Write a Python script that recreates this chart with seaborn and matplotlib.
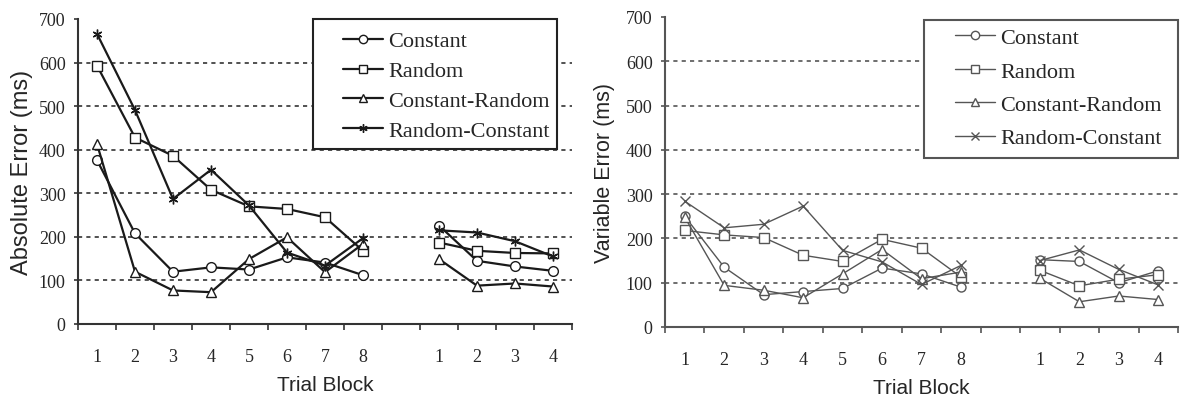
# Absolute and variable timing error across trial blocks (acquisition 1-8, transfer 1-4)

import matplotlib
matplotlib.use("Agg")
import pandas as pd
import matplotlib.pyplot as plt
import seaborn as sns
from matplotlib.lines import Line2D
from matplotlib.patches import Rectangle

# Data
conditions = ["Constant", "Random", "Constant-Random", "Random-Constant"]
block_labels = ["1", "2", "3", "4", "5", "6", "7", "8", "", "1", "2", "3", "4"]

# acquisition blocks 1-8, then transfer blocks 1-4
abs_constant = [376, 208, 120, 130, 125, 153, 141, 112, 226, 145, 132, 122]
abs_random = [593, 428, 386, 308, 270, 264, 245, 168, 187, 168, 163, 162]
abs_const_random = [413, 120, 77, 73, 149, 199, 119, 184, 149, 88, 93, 86]
abs_random_const = [666, 491, 287, 354, 272, 164, 134, 197, 215, 210, 190, 155]

var_constant = [250, 135, 73, 80, 87, 133, 120, 90, 152, 148, 100, 127]
var_random = [218, 208, 202, 162, 148, 198, 178, 113, 128, 93, 108, 118]
var_const_random = [248, 94, 83, 66, 120, 175, 109, 124, 110, 57, 70, 62]
var_random_const = [284, 224, 232, 273, 173, 147, 96, 139, 150, 174, 130, 95]

# slot on the x axis for each of the 12 points (slot 9 is the blank gap)
slots = [1, 2, 3, 4, 5, 6, 7, 8, 10, 11, 12, 13]
phase = ["acquisition"] * 8 + ["transfer"] * 4


def make_frame(series):
    rows = []
    for cond, vals in zip(conditions, series):
        for s, p, v in zip(slots, phase, vals):
            rows.append({"condition": cond, "slot": s, "phase": p, "value": v})
    return pd.DataFrame(rows)


abs_df = make_frame([abs_constant, abs_random, abs_const_random, abs_random_const])
var_df = make_frame([var_constant, var_random, var_const_random, var_random_const])

sns.set_style("white")
plt.rcParams["font.family"] = ["Liberation Serif", "DejaVu Serif"]

W, H = 1180, 402
fig = plt.figure(figsize=(W / 100, H / 100), dpi=100)
ax1 = fig.add_axes([78 / W, 77 / H, 494 / W, 305 / H])
ax2 = fig.add_axes([665 / W, 74 / H, 513 / W, 310 / H])


def draw_panel(ax, df, markers, color, lw, ms, ylabel, ylabel_size, grid_color, spine_color):
    # one call per condition: seaborn won't mix filled and line-art markers
    for cond in conditions:
        sns.lineplot(
            data=df[df["condition"] == cond], x="slot", y="value",
            units="phase", estimator=None, color=color,
            marker=markers[cond], linewidth=lw, markersize=ms,
            markerfacecolor="white", markeredgecolor=color, markeredgewidth=1.0,
            legend=False, ax=ax, zorder=3,
        )

    # dotted gridlines like the original spreadsheet chart
    for yv in range(100, 700, 100):
        ax.axhline(yv, color=grid_color, lw=1.2, ls=(0, (2.5, 2.5)), zorder=1)

    ax.set_xlim(0.5, 13.5)
    ax.set_ylim(0, 700)
    ax.set_yticks(range(0, 701, 100))
    ax.set_yticklabels([str(v) for v in range(0, 701, 100)], fontsize=13)

    # ticks between categories, labels at category centres
    ax.set_xticks([k + 0.5 for k in range(0, 14)])
    ax.set_xticklabels([])
    ax.set_xticks(list(range(1, 14)), minor=True)
    ax.set_xticklabels(block_labels, minor=True, fontsize=13)
    ax.tick_params(axis="x", which="major", direction="out", length=4.5,
                   width=1.2, color=spine_color, bottom=True)
    ax.tick_params(axis="x", which="minor", length=0, pad=17)
    ax.tick_params(axis="y", direction="out", length=3, width=1.2,
                   color=spine_color, left=True, pad=6)

    for side in ["top", "right"]:
        ax.spines[side].set_visible(False)
    for side in ["left", "bottom"]:
        ax.spines[side].set_color(spine_color)
        ax.spines[side].set_linewidth(1.5)

    ax.set_xlabel("Trial Block", family="Liberation Sans", fontsize=15)
    ax.set_ylabel(ylabel, family="Liberation Sans", fontsize=ylabel_size)
    ax.xaxis.label.set_va("center")
    ax.yaxis.label.set_va("center")


abs_markers = {"Constant": "o", "Random": "s", "Constant-Random": "^",
               "Random-Constant": (6, 2, 0)}
var_markers = {"Constant": "o", "Random": "s", "Constant-Random": "^",
               "Random-Constant": "x"}

draw_panel(ax1, abs_df, abs_markers, "#1a1a1a", 1.6, 7,
           "Absolute Error (ms)", 17, "#333333", "#333333")
draw_panel(ax2, var_df, var_markers, "#555555", 1.0, 6.5,
           "Variable Error (ms)", 15.5, "#555555", "#555555")

ax1.xaxis.set_label_coords(0.5, -0.197)
ax1.yaxis.set_label_coords(-0.113, 0.5)
ax2.xaxis.set_label_coords(0.5, -0.194)
ax2.yaxis.set_label_coords(-0.117, 0.5)


def add_legend(markers, color, lw, ms, box, handle_x, rows_mid, spacing, edge):
    # box: (left, top, right, bottom) in pixels from the top-left corner
    left, top, right, bottom = box
    fig.add_artist(Rectangle((left / W, 1 - bottom / H), (right - left) / W,
                             (bottom - top) / H, transform=fig.transFigure,
                             facecolor="white", edgecolor=edge, lw=1.5, zorder=4))
    handles = [Line2D([], [], color=color, lw=lw, marker=markers[c], ms=ms,
                      mfc="white", mec=color, mew=1.0) for c in conditions]
    leg = fig.legend(handles, conditions, loc="center left",
                     bbox_to_anchor=(handle_x / W, 1 - rows_mid / H),
                     frameon=False, prop={"family": "Liberation Serif", "size": 16},
                     handlelength=1.8, handletextpad=0.22, borderpad=0,
                     labelspacing=spacing, borderaxespad=0)
    leg.set_zorder(5)


add_legend(abs_markers, "#1a1a1a", 1.6, 6, (313, 20, 557, 150), 343, 87, 0.42, "#222222")
add_legend(var_markers, "#555555", 1.0, 6, (924, 21, 1178, 159), 955, 89, 0.58, "#555555")

plt.savefig("out.png", dpi=100)
